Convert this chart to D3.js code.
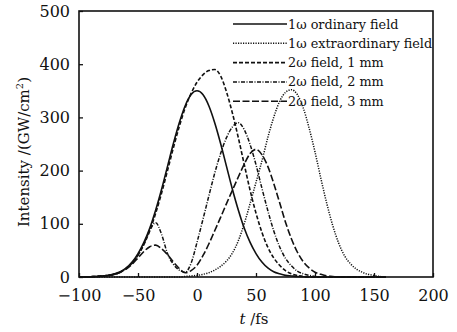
<!DOCTYPE html>
<html>
<head>
<meta charset="utf-8">
<script src="https://cdn.jsdelivr.net/npm/d3@7"></script>
<style>
  body { margin: 0; background: #fff; }
  text { font-family: "DejaVu Serif", serif; fill: #111; }
</style>
</head>
<body>
<svg width="457" height="332"></svg>
<script>
// time grid, fs (-100 .. 160, step 5)
const timeFs = d3.range(-100, 161, 5);

// intensities, GW/cm^2
const ordinary1w = [
  0, 0, 0.5, 1, 2, 3, 6, 10, 17, 28, 44, 65, 92, 126, 165, 208, 251, 290, 322, 343,
  350, 343, 322, 290, 251, 208, 165, 126, 92, 65, 44, 28, 17, 10, 6, 3, 2, 1, 0.5, 0,
  0, 0, 0, 0, 0, 0, 0, 0, 0, 0, 0, 0, 0,
];
const extra1w = [
  0, 0, 0, 0, 0, 0, 0, 0, 0, 0, 0, 0, 0, 0, 0, 0, 0, 0, 1, 2,
  3, 5, 8, 13, 20, 30, 45, 68, 100, 138, 178, 218, 262, 300, 330, 347, 352, 343, 318, 280,
  235, 185, 138, 97, 64, 40, 25, 15, 9, 5, 3, 1, 0,
];
const shg1mm = [
  0, 0, 0.5, 1, 2, 3, 5, 9, 16, 26, 41, 61, 87, 120, 158, 200, 243, 283, 318, 345,
  366, 380, 388, 390, 378, 348, 308, 262, 212, 163, 120, 84, 56, 36, 22, 12, 6, 3, 1, 0,
  0, 0, 0, 0, 0, 0, 0, 0, 0, 0, 0, 0, 0,
];
const shg2mm = [
  0, 0, 0.5, 1, 2, 3, 5, 9, 16, 26, 41, 62, 88, 102, 80, 44, 24, 13, 9, 26,
  65, 108, 152, 195, 232, 262, 282, 290, 277, 249, 211, 167, 125, 87, 57, 35, 21, 11, 6, 3,
  1, 0, 0, 0, 0, 0, 0, 0, 0, 0, 0, 0, 0,
];
const shg3mm = [
  0, 0, 0.5, 1, 2, 3, 5, 9, 15, 24, 36, 48, 57, 60, 53, 42, 28, 16, 8, 12,
  22, 40, 62, 87, 112, 138, 163, 188, 212, 232, 240, 230, 208, 176, 140, 103, 72, 47, 29, 17,
  9, 5, 2, 1, 0, 0, 0, 0, 0, 0, 0, 0, 0,
];

const seriesNames = [
  "1ω ordinary field",
  "1ω extraordinary field",
  "2ω field, 1 mm",
  "2ω field, 2 mm",
  "2ω field, 3 mm",
];
const seriesValues = [ordinary1w, extra1w, shg1mm, shg2mm, shg3mm];
const xTicks = [-100, -50, 0, 50, 100, 150, 200];
const yTicks = [0, 100, 200, 300, 400, 500];

// line styles per series
const dashes = ["none", "1.2 1.3", "4 2", "4 1.5 1 1.5", "7 2.5"];
const widths = [1.6, 1.5, 1.6, 1.5, 1.6];

const plotLeft = 79, plotRight = 433, plotTop = 11, plotBottom = 277;

const x = d3.scaleLinear().domain([-100, 200]).range([plotLeft, plotRight]);
const y = d3.scaleLinear().domain([0, 500]).range([plotBottom, plotTop]);

const svg = d3.select("svg");

// curves
const line = d3
  .line()
  .x((d, i) => x(timeFs[i]))
  .y((d) => y(d))
  .curve(d3.curveMonotoneX);

svg
  .append("g")
  .selectAll("path")
  .data(seriesValues)
  .join("path")
  .attr("d", line)
  .attr("fill", "none")
  .attr("stroke", "#111")
  .attr("stroke-width", (d, i) => widths[i])
  .attr("stroke-dasharray", (d, i) => dashes[i]);

// axes (ticks pointing inward)
const xAxis = svg
  .append("g")
  .attr("transform", `translate(0,${plotBottom})`)
  .call(d3.axisBottom(x).tickValues(xTicks).tickSizeInner(-4).tickSizeOuter(0).tickPadding(13));
const yAxis = svg
  .append("g")
  .attr("transform", `translate(${plotLeft},0)`)
  .call(d3.axisLeft(y).tickValues(yTicks).tickSizeInner(-4).tickSizeOuter(0).tickPadding(9));

[xAxis, yAxis].forEach((a) => {
  a.select(".domain").remove();
  a.selectAll(".tick line").attr("stroke", "#111").attr("stroke-width", 1.3);
  a.selectAll(".tick text")
    .style("font-family", '"DejaVu Serif", serif')
    .style("font-size", "16px")
    .attr("fill", "#111");
});

// frame
svg
  .append("rect")
  .attr("x", plotLeft)
  .attr("y", plotTop)
  .attr("width", plotRight - plotLeft)
  .attr("height", plotBottom - plotTop)
  .attr("fill", "none")
  .attr("stroke", "#111")
  .attr("stroke-width", 1.6);

// axis titles
const xt = svg
  .append("text")
  .attr("x", (plotLeft + plotRight) / 2 - 2)
  .attr("y", 324)
  .attr("text-anchor", "middle")
  .style("font-size", "15px");
xt.append("tspan").style("font-style", "italic").text("t");
xt.append("tspan").text(" /fs");

const yt = svg
  .append("text")
  .attr("transform", `translate(29,${(plotTop + plotBottom) / 2 + 8}) rotate(-90)`)
  .attr("text-anchor", "middle")
  .style("font-size", "15px");
yt.append("tspan").text("Intensity /(GW/cm");
yt.append("tspan").attr("dy", -6).style("font-size", "10px").text("2");
yt.append("tspan").attr("dy", 6).text(")");

// legend
const legend = svg
  .append("g")
  .selectAll("g")
  .data(seriesNames)
  .join("g")
  .attr("transform", (d, i) => `translate(233,${24 + i * 19.3})`);

legend
  .append("line")
  .attr("x1", 0)
  .attr("x2", 54)
  .attr("stroke", "#111")
  .attr("stroke-width", (d, i) => widths[i])
  .attr("stroke-dasharray", (d, i) => dashes[i]);

legend
  .append("text")
  .attr("x", 55)
  .attr("y", 4.5)
  .style("font-size", "12.8px")
  .text((d) => d);
</script>
</body>
</html>
